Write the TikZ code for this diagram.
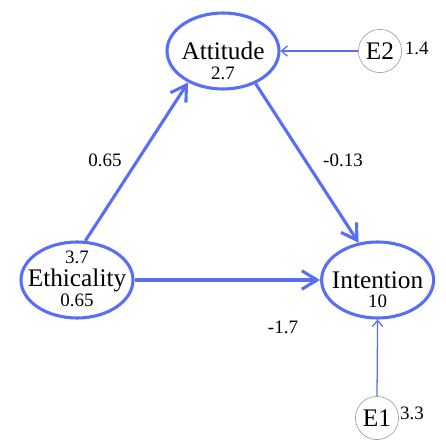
\documentclass[tikz,border=0pt]{standalone}
\usepackage{fontspec}
\setmainfont{Liberation Serif}
\usetikzlibrary{shapes.geometric,arrows.meta}
\definecolor{semblue}{RGB}{88,110,245}
\definecolor{errgray}{RGB}{165,165,165}
\begin{document}
\begin{tikzpicture}[>=stealth,
    latente/.style={ellipse, draw=semblue, line width=2.2pt, minimum width=2.8cm, minimum height=1.9cm, inner sep=0pt},
    error/.style={circle, draw=errgray, line width=0.5pt, minimum size=1.08cm, inner sep=0pt, font=\fontsize{18}{20}\selectfont},
    nombre/.style={inner sep=0pt, font=\fontsize{18}{20}\selectfont},
    valor/.style={inner sep=0pt, font=\fontsize{13.5}{15}\selectfont},
    camino/.style={draw=semblue, line width=2.2pt, -{Straight Barb[length=3.8mm, width=4.6mm]}},
    residuo/.style={draw=semblue, line width=0.9pt, -{Straight Barb[length=1.5mm, width=2.6mm]}}]
    \useasboundingbox (0,0) rectangle (11.15,11.05);

    % Variables latentes
    \node[latente] (att) at (5.575,9.775) {};
    \node[latente] (eth) at (1.925,4.05) {};
    \node[latente] (int) at (9.44,4.05) {};

    \node[nombre] (att-txt) at (att) {Attitude};
    \node[nombre] (eth-txt) at (eth) {Ethicality};
    \node[nombre] (int-txt) at (int) {Intention};

    \node[valor] (att-var) at ([yshift=-0.55cm]att.center) {2.7};
    \node[valor] (eth-med) at ([yshift=0.57cm]eth.center) {3.7};
    \node[valor] (eth-var) at ([yshift=-0.52cm]eth.center) {0.65};
    \node[valor] (int-var) at ([yshift=-0.52cm]int.center) {10};

    % Errores
    \node[error] (e2) at (9.5,9.775) {E2};
    \node[error] (e1) at (9.425,0.6) {E1};
    \node[valor] (e2-var) at (10.42,9.85) {1.4};
    \node[valor] (e1-var) at (10.3,0.72) {3.3};

    % Caminos
    \draw[camino] (eth.78) -- (att.222);
    \draw[camino] (att.-45) -- (int.117);
    \draw[camino] (eth.east) -- (int.west);
    \draw[residuo] (e2.west) -- (att.east);
    \draw[residuo] (e1.north) -- (int.south);

    \node[valor] (l-ea) at (2.625,7.05) {0.65};
    \node[valor] (l-ai) at (8.575,7.05) {-0.13};
    \node[valor] (l-ei) at (7.075,2.875) {-1.7};
\end{tikzpicture}
\end{document}
